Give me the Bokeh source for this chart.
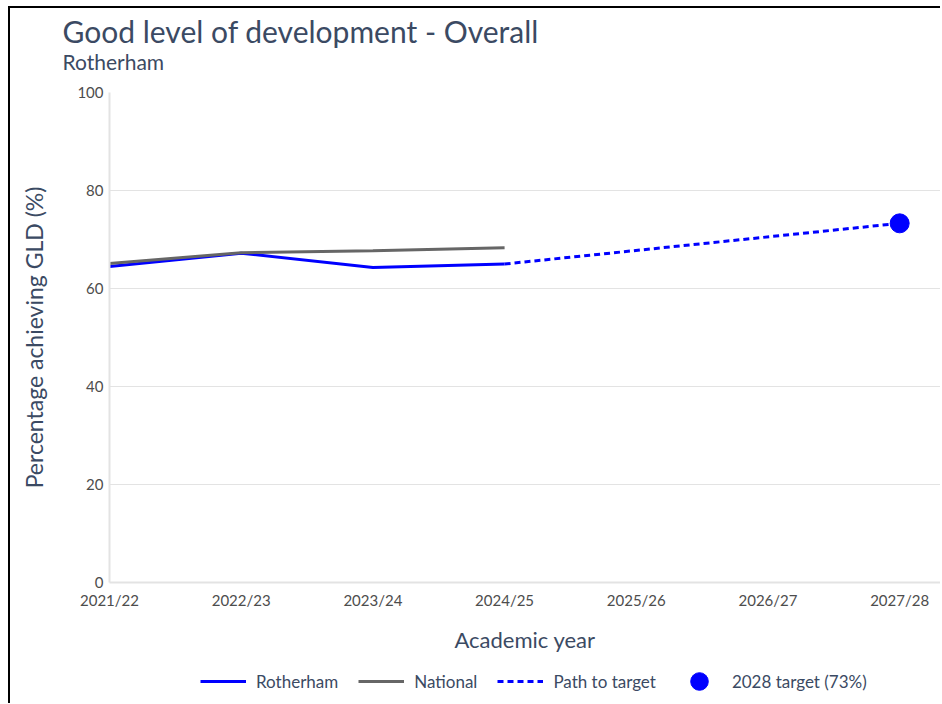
from bokeh.plotting import figure
from bokeh.layouts import column
from bokeh.models import (ColumnDataSource, FixedTicker, Title, Legend, LegendItem)
from bokeh.embed import file_html
from bokeh.resources import INLINE

# ---- data ----
years = ["2021/22", "2022/23", "2023/24", "2024/25", "2025/26", "2026/27", "2027/28"]
rotherham = [64.5, 67.2, 64.3, 65.0]
national = [65.1, 67.3, 67.7, 68.3]
path_years = ["2024/25", "2027/28"]
path_values = [65.0, 73.3]
target_year = ["2027/28"]
target_value = [73.3]
legend_labels = ["Rotherham", "National", "Path to target", "2028 target (73%)"]

FONT = "Lato"
TEXT = "#3b4a63"
TICK = "#4d4d4d"
BLUE = "#0000ff"
GREY = "#666666"

idx = {y: i for i, y in enumerate(years)}

p = figure(frame_width=831, frame_height=490, output_backend="svg",
           toolbar_location=None,
           x_range=(0, 6.31), y_range=(0, 100),
           min_border_left=99, min_border_top=84, min_border_bottom=77,
           min_border_right=0)
p.outline_line_color = None

# titles (added nearest-first)
sub = Title(text="Rotherham", text_font=FONT, text_font_size="21px",
            text_font_style="normal", text_color=TEXT, align="left",
            offset=-47, standoff=37)
p.add_layout(sub, "above")
main = Title(text="Good level of development - Overall", text_font=FONT,
             text_font_size="30px", text_font_style="normal", text_color=TEXT,
             align="left", offset=-47, standoff=-41)
p.add_layout(main, "above")

src_r = ColumnDataSource(dict(x=[idx[y] for y in years[:4]], y=rotherham))
src_n = ColumnDataSource(dict(x=[idx[y] for y in years[:4]], y=national))
src_p = ColumnDataSource(dict(x=[idx[y] for y in path_years], y=path_values))
src_t = ColumnDataSource(dict(x=[idx[y] for y in target_year], y=target_value))

p.line("x", "y", source=src_r, line_color=BLUE, line_width=3)
p.line("x", "y", source=src_n, line_color=GREY, line_width=3)
p.line("x", "y", source=src_p, line_color=BLUE, line_width=3, line_dash="6 4")
p.scatter("x", "y", source=src_t, size=19, fill_color=BLUE, line_color=BLUE)

# axes
p.xaxis.ticker = FixedTicker(ticks=list(range(len(years))))
p.xaxis.major_label_overrides = {i: y for i, y in enumerate(years)}
p.yaxis.ticker = FixedTicker(ticks=[0, 20, 40, 60, 80, 100])
for ax in (p.xaxis[0], p.yaxis[0]):
    ax.axis_line_color = "#e3e3e3"
    ax.axis_line_width = 2
    ax.major_tick_line_color = None
    ax.minor_tick_line_color = None
    ax.major_tick_out = 0
    ax.major_tick_in = 0
    ax.minor_tick_out = 0
    ax.minor_tick_in = 0
    ax.major_label_text_font = FONT
    ax.major_label_text_font_size = "15px"
    ax.major_label_text_color = TICK
    ax.axis_label_text_font = FONT
    ax.axis_label_text_font_style = "normal"
    ax.axis_label_text_color = TEXT
p.xaxis.axis_label = "Academic year"
p.xaxis.axis_label_text_font_size = "22px"
p.xaxis.major_label_standoff = 8
p.xaxis.axis_label_standoff = 14
p.yaxis.axis_label = "Percentage achieving GLD (%)"
p.yaxis.axis_label_text_font_size = "23px"
p.yaxis.major_label_standoff = 6
p.yaxis.axis_label_standoff = 26

p.xgrid.grid_line_color = None
p.ygrid.grid_line_color = "#e3e3e3"
p.ygrid.grid_line_width = 1

# legend strip below the chart (same series, outside this strip's visible range,
# so only the legend swatches are shown)
lg = figure(frame_width=831, frame_height=44, output_backend="svg",
            toolbar_location=None, x_range=(0, 1), y_range=(-2, -1),
            x_axis_location=None, y_axis_location=None,
            min_border_left=99, min_border_top=0, min_border_bottom=0,
            min_border_right=0)
lg.outline_line_color = None
lg.xgrid.visible = False
lg.ygrid.visible = False
l_rot = lg.line("x", "y", source=src_r, line_color=BLUE, line_width=3)
l_nat = lg.line("x", "y", source=src_n, line_color=GREY, line_width=3)
l_path = lg.line("x", "y", source=src_p, line_color=BLUE, line_width=3,
                 line_dash="6 4")
l_tgt = lg.scatter("x", "y", source=src_t, size=19, fill_color=BLUE,
                   line_color=BLUE)

legend = Legend(items=[
    LegendItem(label=legend_labels[0], renderers=[l_rot]),
    LegendItem(label=legend_labels[1], renderers=[l_nat]),
    LegendItem(label=legend_labels[2], renderers=[l_path]),
    LegendItem(label=legend_labels[3], renderers=[l_tgt]),
], orientation="horizontal", location=(91, 0),
    label_text_font=FONT, label_text_font_size="17px", label_text_color=TEXT,
    glyph_width=46, glyph_height=44, label_standoff=10, spacing=20,
    border_line_color=None, background_fill_alpha=0, padding=0, margin=0)
lg.add_layout(legend, "center")

layout = column(p, lg, spacing=0)
layout.styles = {"border-top": "2px solid black", "border-left": "2px solid black",
                 "margin-left": "8px", "margin-top": "6px"}

open("out.html", "w").write(file_html(layout, INLINE))
